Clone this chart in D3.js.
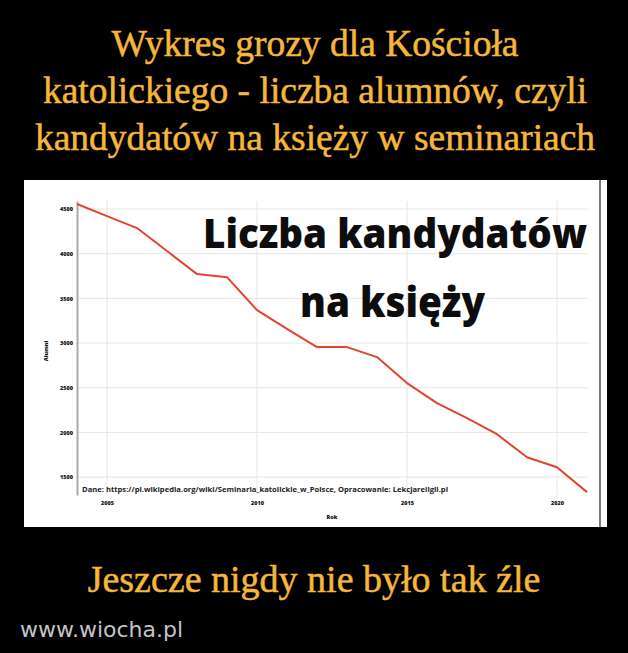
<!DOCTYPE html>
<html><head><meta charset="utf-8">
<script src="https://cdn.jsdelivr.net/npm/d3@7"></script>
<style>html,body{margin:0;padding:0;background:#000;}svg{display:block;}</style>
</head><body>
<script>
const years = [2004,2005,2006,2007,2008,2009,2010,2011,2012,2013,2014,2015,2016,2017,2018,2019,2020,2021];
const alumni = [4556,4420,4287,4030,3772,3738,3369,3160,2955,2955,2843,2552,2328,2160,1980,1723,1611,1332];
const yTicks = [1500,2000,2500,3000,3500,4000,4500];
const xTicks = [2005,2010,2015,2020];
const titleLines = ["Wykres grozy dla Kościoła","katolickiego - liczba alumnów, czyli","kandydatów na księży w seminariach"];
const overlayLines = ["Liczba kandydatów","na księży"];
const footer = "Jeszcze nigdy nie było tak źle";
const sourceText = "Dane: https://pl.wikipedia.org/wiki/Seminaria_katolickie_w_Polsce, Opracowanie: Lekcjareligii.pl";

const W=628,H=653;
const svg=d3.select("body").append("svg").attr("width",W).attr("height",H);
svg.append("rect").attr("width",W).attr("height",H).attr("fill","#000");

const gold="#f4b73b";
const titleY=[56,103,150];
svg.selectAll("text.title").data(titleLines).join("text")
  .attr("x",W/2+1).attr("y",(d,i)=>titleY[i]).attr("text-anchor","middle")
  .attr("font-family","'Liberation Serif','Times New Roman',serif").attr("font-size",37.5)
  .attr("fill",gold).attr("stroke",gold).attr("stroke-width",0.5).text(d=>d);

// panel
svg.append("rect").attr("x",24).attr("y",180).attr("width",583).attr("height",347).attr("fill","#fff");
svg.append("line").attr("x1",600).attr("x2",600).attr("y1",180).attr("y2",527).attr("stroke","#222").attr("stroke-width",1.2);

const x=d3.scaleLinear().domain([2004,2021]).range([77,587]);
const y=d3.scaleLinear().domain([1300,4590]).range([495,201]);

// grid
svg.append("g").selectAll("line").data(yTicks).join("line")
  .attr("x1",x(2004)).attr("x2",x(2021)+1).attr("y1",d=>y(d)).attr("y2",d=>y(d))
  .attr("stroke","#e6e6e6").attr("stroke-width",1);
svg.append("g").selectAll("line").data(xTicks).join("line")
  .attr("x1",d=>x(d)).attr("x2",d=>x(d)).attr("y1",y(4590)).attr("y2",y(1300))
  .attr("stroke","#e6e6e6").attr("stroke-width",1);

// y axis
const yAxis=svg.append("g").attr("transform",`translate(${x(2004)},0)`)
  .call(d3.axisLeft(y).tickValues(yTicks).tickSize(0).tickPadding(4).tickFormat(d3.format("d")));
yAxis.select(".domain").attr("stroke","#aaa").attr("stroke-width",2);
yAxis.selectAll("text").attr("font-family","'Open Sans',sans-serif").attr("font-weight",800).attr("font-size",5.5).attr("fill","#111");

const xAxis=svg.append("g").attr("transform",`translate(0,${y(1300)})`)
  .call(d3.axisBottom(x).tickValues(xTicks).tickSize(0).tickPadding(6).tickFormat(d3.format("d")));
xAxis.select(".domain").remove();
xAxis.selectAll("text").attr("font-family","'Open Sans',sans-serif").attr("font-weight",800).attr("font-size",5.5).attr("fill","#111");

svg.append("text").attr("transform","translate(48,351) rotate(-90)").attr("text-anchor","middle")
  .attr("font-family","'Open Sans',sans-serif").attr("font-weight",800).attr("font-size",5.5).attr("fill","#111").text("Alumni");
svg.append("text").attr("x",332).attr("y",519).attr("text-anchor","middle")
  .attr("font-family","'Open Sans',sans-serif").attr("font-weight",800).attr("font-size",5.5).attr("fill","#111").text("Rok");

// line
const line=d3.line().x((d,i)=>x(years[i])).y(d=>y(d));
svg.append("path").datum(alumni).attr("d",line).attr("fill","none")
  .attr("stroke","#e0452f").attr("stroke-width",2).attr("stroke-linejoin","round");

// source
svg.append("text").attr("x",82).attr("y",491.5).attr("textLength",366).attr("lengthAdjust","spacingAndGlyphs")
  .attr("font-family","'Open Sans',sans-serif").attr("font-weight",700).attr("font-size",7.5).attr("fill","#222").text(sourceText);

// overlay
const ov=[{t:overlayLines[0],x:203,y:248,w:384,fs:40},{t:overlayLines[1],x:300,y:317,w:185,fs:42}];
svg.selectAll("text.ov").data(ov).join("text")
  .attr("x",d=>d.x).attr("y",d=>d.y).attr("textLength",d=>d.w).attr("lengthAdjust","spacingAndGlyphs")
  .attr("font-family","'Open Sans',sans-serif").attr("font-weight",800).attr("font-size",d=>d.fs)
  .attr("fill","#0d0d0d").text(d=>d.t);

svg.append("text").attr("x",314).attr("y",592).attr("text-anchor","middle")
  .attr("font-family","'Liberation Serif','Times New Roman',serif").attr("font-size",38)
  .attr("fill",gold).attr("stroke",gold).attr("stroke-width",0.5).text(footer);

svg.append("text").attr("x",20).attr("y",637)
  .attr("font-family","'DejaVu Sans',sans-serif").attr("font-size",22).attr("fill","#c4c4c4").text("www.wiocha.pl");
</script>
</body></html>
